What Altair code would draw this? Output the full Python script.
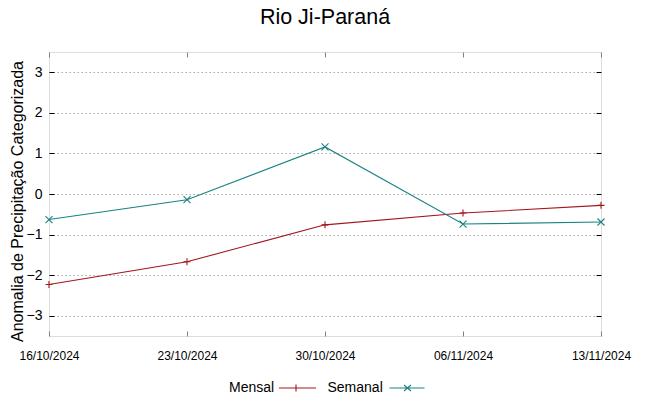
import altair as alt
import pandas as pd

datas = ["16/10/2024", "23/10/2024", "30/10/2024", "06/11/2024", "13/11/2024"]
mensal = [-2.23, -1.67, -0.76, -0.47, -0.28]
semanal = [-0.63, -0.14, 1.16, -0.74, -0.69]
series = ["Mensal", "Semanal"]
colors = ["#a3161c", "#1b8282"]
y_ticks = [-3, -2, -1, 0, 1, 2, 3]

FONT = "Liberation Sans"
TICK = 5

rows = []
for d, v in zip(datas, mensal):
    rows.append({"data": d, "valor": v, "serie": "Mensal"})
for d, v in zip(datas, semanal):
    rows.append({"data": d, "valor": v, "serie": "Semanal"})
df = pd.DataFrame(rows)

# marker shapes (unit coords) and legend symbols (pixel coords: size 4 -> r = 1)
plus_path = "M-1,0L1,0M0,-1L0,1"
x_path = "M-1,-1L1,1M-1,1L1,-1"
leg_mensal = "M47,0L84,0M64,-3.5L64,3.5"
leg_semanal = "M59,0L94,0M73.5,-3L80.5,3M73.5,3L80.5,-3"

x_scale = alt.Scale(type="point", padding=0)
y_scale = alt.Scale(domain=[-3.5, 3.5], nice=False, zero=False)

x_axis_main = alt.Axis(
    title=None, labelAngle=0, labelFont=FONT, labelFontSize=12,
    labelColor="black", ticks=True, tickSize=TICK, tickColor="#808080",
    offset=-TICK, domain=False, grid=False, labelPadding=14,
)
x_axis_top = alt.Axis(
    orient="top", title=None, labels=False, ticks=True, tickSize=TICK,
    tickColor="#808080", offset=-TICK, domain=False, grid=False,
)
y_axis_main = alt.Axis(
    values=y_ticks, title="Anomalia de Precipitação Categorizada",
    titleFont=FONT, titleFontSize=16, titleFontWeight="normal",
    titleColor="black", titleX=-24 - TICK, titleY=149, titleAngle=-90,
    titleAlign="center", titleBaseline="bottom",
    labelFont=FONT, labelFontSize=14, labelColor="black",
    labelPadding=7, ticks=True, tickSize=TICK, tickColor="black",
    offset=-TICK, domain=False,
    grid=True, gridDash=[1.5, 2.5], gridColor="#a8a8a8", gridWidth=1,
)
y_axis_right = alt.Axis(
    orient="right", values=y_ticks, title=None, labels=False, ticks=True,
    tickSize=TICK, tickColor="black", offset=-TICK, domain=False, grid=False,
)


def xe(axis):
    return alt.X("data:O", sort=datas, scale=x_scale, axis=axis)


def ye(axis):
    return alt.Y("valor:Q", scale=y_scale, axis=axis)


base = alt.Chart(df)
layers = []
axes_sets = [
    [(x_axis_main, y_axis_main), (x_axis_top, y_axis_right)],
    [(None, None), (None, None)],
]
for (s, col, shp), ax in zip(zip(series, colors, [plus_path, x_path]), axes_sets):
    sub = base.transform_filter(alt.datum.serie == s)
    (xa1, ya1), (xa2, ya2) = ax
    layers.append(
        sub.mark_line(strokeWidth=1.1, color=col).encode(x=xe(xa1), y=ye(ya1))
    )
    layers.append(
        sub.mark_point(filled=False, size=49, strokeWidth=1.1, color=col, opacity=1).encode(
            x=xe(xa2), y=ye(ya2), shape=alt.value(shp)
        )
    )

leg = alt.Legend(
    title=None, orient="none", direction="horizontal",
    legendX=176, legendY=329, padding=0,
    symbolSize=4, symbolStrokeWidth=1.1, symbolOpacity=1,
    symbolFillColor="transparent",
    labelFont=FONT, labelFontSize=14, labelColor="black",
    labelOffset={"expr": "-10"}, columnPadding=4.5, labelLimit=200,
)

legend_layer = base.transform_filter("false").mark_point(
    filled=False, strokeWidth=1.1, opacity=1
).encode(
    x=xe(None),
    y=ye(None),
    color=alt.Color("serie:N", scale=alt.Scale(domain=series, range=colors), legend=leg),
    shape=alt.Shape(
        "serie:N",
        scale=alt.Scale(domain=series, range=[leg_mensal, leg_semanal]),
        legend=leg,
    ),
)
layers.append(legend_layer)

chart = alt.layer(*layers).resolve_axis(x="independent", y="independent").properties(
    width=552,
    height=284,
    title=alt.Title(
        "Rio Ji-Paraná", font=FONT, fontSize=21.5, fontWeight="normal",
        color="black", anchor="middle", offset=23,
    ),
    autosize=alt.AutoSizeParams(type="none"),
    padding={"left": 41, "top": 44, "right": 40, "bottom": 60},
).configure_view(
    stroke="#6a6a6a", strokeWidth=1
).configure(background="white")

chart.save("out.html", embed_options={"renderer": "svg", "actions": False})
